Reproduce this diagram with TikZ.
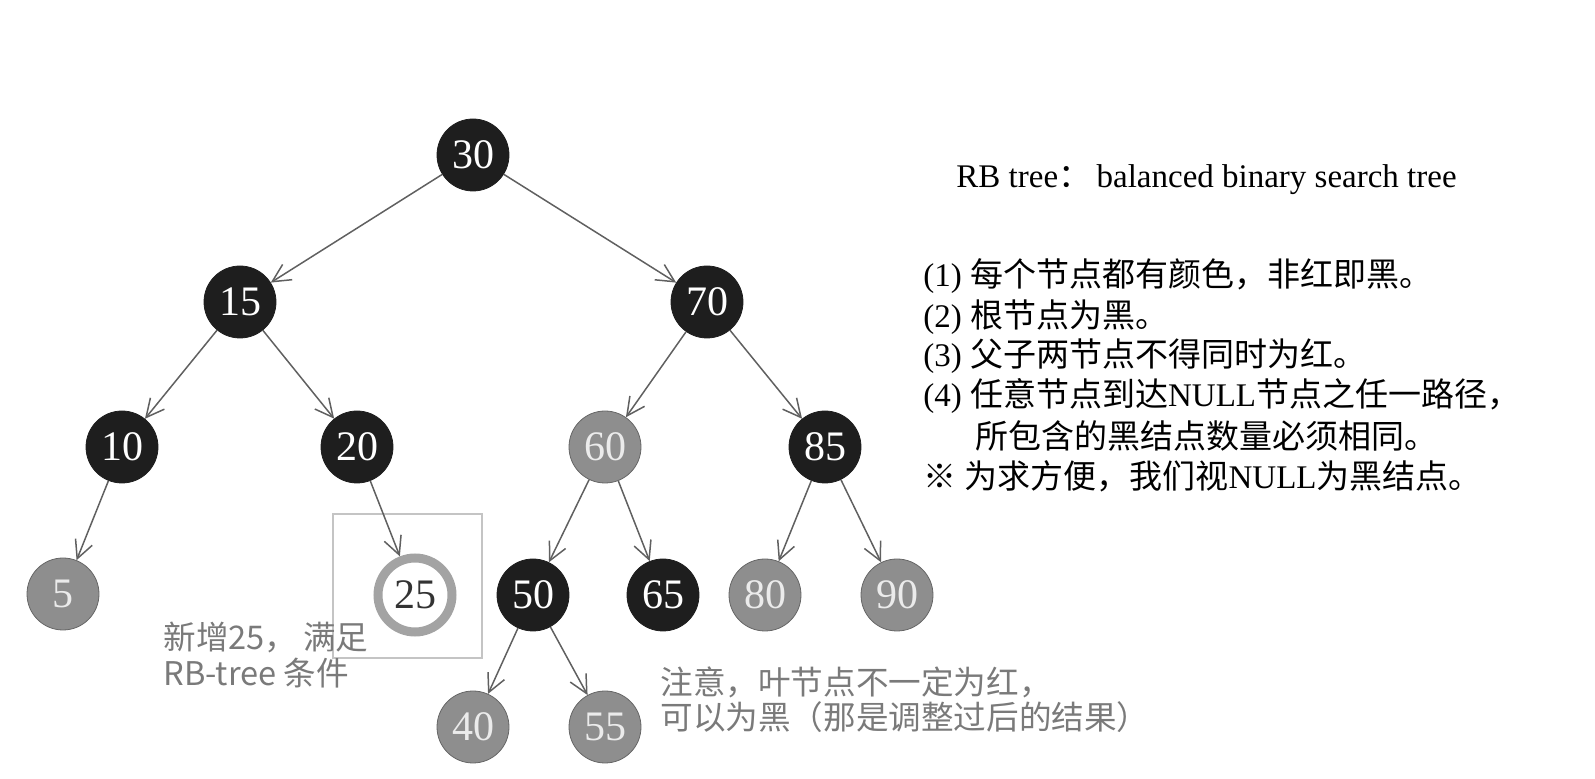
\documentclass[tikz,border=0pt]{standalone}
\usepackage{fontspec}
\setmainfont{Liberation Serif}
\newfontfamily\cjk{Noto Sans CJK SC}
\newcommand\zh[1]{{\cjk #1}}
\usetikzlibrary{arrows.meta}

\definecolor{nodeblack}{HTML}{1E1E1E}
\definecolor{nodered}{HTML}{8E8E8E}
\definecolor{ringgray}{HTML}{A3A3A3}
\definecolor{linegray}{HTML}{606060}
\definecolor{notegray}{HTML}{7A7A7A}
\definecolor{boxgray}{HTML}{C4C4C4}

\begin{document}
\begin{tikzpicture}[
  x=0.5pt, y=-0.5pt,
  rb/.style={circle, minimum size=36pt, inner sep=0pt, font=\fontsize{21}{21}\selectfont},
  blknode/.style={rb, fill=nodeblack, draw=nodeblack, text=white},
  rednode/.style={rb, fill=nodered, draw=black!60, text=white!92!black},
  newnode/.style={rb, fill=white, draw=ringgray, line width=4.5pt, minimum size=37pt, text=black!80},
  link/.style={-{Straight Barb[length=9pt,width=9pt]}, draw=linegray, line width=0.75pt},
  note/.style={anchor=west, inner sep=0pt, text=notegray, font=\cjk\fontsize{16.3}{18}\selectfont},
  rule/.style={anchor=west, inner sep=0pt, font=\fontsize{16.5}{18}\selectfont}
]
\useasboundingbox (0,0) rectangle (1595,779);

% frame round the new node
\draw[boxgray, line width=0.6pt] (333,514) rectangle (482,658);

% tree
\node[blknode] (n30) at (473,155) {30};
\node[blknode] (n15) at (240,302) {15};
\node[blknode] (n70) at (707,302) {70};
\node[blknode] (n10) at (122,447) {10};
\node[blknode] (n20) at (357,447) {20};
\node[rednode] (n60) at (605,447) {60};
\node[blknode] (n85) at (825,447) {85};
\node[rednode] (n5) at (63,594) {5};
\node[newnode] (n25) at (415,595) {25};
\node[blknode] (n50) at (533,595) {50};
\node[blknode] (n65) at (663,595) {65};
\node[rednode] (n80) at (765,595) {80};
\node[rednode] (n90) at (897,595) {90};
\node[rednode] (n40) at (473,727) {40};
\node[rednode] (n55) at (605,727) {55};

\foreach \a/\b in {30/15,30/70,15/10,15/20,70/60,70/85,10/5,20/25,
                   60/50,60/65,85/80,85/90,50/40,50/55}
  \draw[link] (n\a) -- (n\b);

% notes
\node[note] (note1a) at (163,637) {新增25，\hspace{3pt}满足};
\node[note] (note1b) at (163,673) {RB-tree 条件};
\node[note] (note2a) at (660,682) {注意，叶节点不一定为红，};
\node[note] (note2b) at (660,717) {可以为黑（那是调整过后的结果）};

% rules
\node[rule] (title) at (956,180) {RB tree\zh{：}\,balanced binary search tree};
\node[rule] (r1) at (923,276) {(1) \zh{每个节点都有颜色，非红即黑。}};
\node[rule] (r2) at (923,317) {(2) \zh{根节点为黑。}};
\node[rule] (r3) at (923,356) {(3) \zh{父子两节点不得同时为红。}};
\node[rule] (r4) at (923,396) {(4) \zh{任意节点到达}NULL\zh{节点之任一路径，}};
\node[rule] (r5) at (975,436) {\zh{所包含的黑结点数量必须相同。}};
\node[rule] (r6) at (923,476) {\zh{※} \zh{为求方便，我们视}NULL\zh{为黑结点。}};
\end{tikzpicture}
\end{document}
